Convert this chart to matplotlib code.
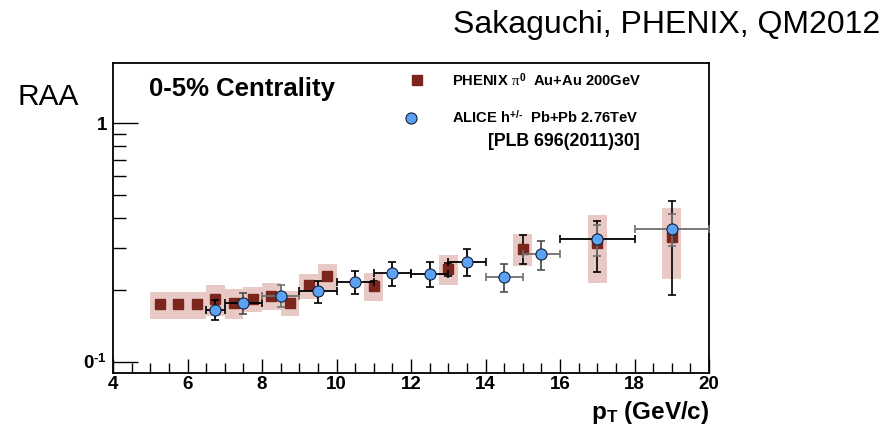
import numpy as np
import matplotlib
matplotlib.use("Agg")
import matplotlib.pyplot as plt
from matplotlib.patches import Rectangle
from matplotlib.ticker import FixedLocator, NullFormatter, MultipleLocator

plt.rcParams['font.family'] = ['Liberation Sans', 'DejaVu Sans']
plt.rcParams['mathtext.fontset'] = 'custom'
plt.rcParams['mathtext.rm'] = 'Liberation Sans:bold'
plt.rcParams['mathtext.it'] = 'Liberation Serif'
plt.rcParams['mathtext.bf'] = 'Liberation Sans:bold'

# PHENIX pi0, Au+Au 200 GeV, 0-5%
phx_pt = [5.25, 5.75, 6.25, 6.75, 7.25, 7.75, 8.25, 8.75, 9.25, 9.75, 11.0, 13.0, 15.0, 17.0, 19.0]
phx_raa = [0.174, 0.174, 0.174, 0.183, 0.176, 0.183, 0.189, 0.177, 0.209, 0.229, 0.208, 0.245, 0.298, 0.314, 0.332]
phx_stat = [0.004, 0.004, 0.005, 0.006, 0.006, 0.007, 0.007, 0.007, 0.008, 0.009, 0.010, 0.015, 0.042, 0.076, 0.142]
phx_sys = [0.023, 0.023, 0.023, 0.027, 0.025, 0.022, 0.024, 0.021, 0.025, 0.029, 0.028, 0.035, 0.047, 0.100, 0.110]

# ALICE charged hadrons, Pb+Pb 2.76 TeV
ali_pt = [6.75, 7.5, 8.5, 9.5, 10.5, 11.5, 12.5, 13.5, 14.5, 15.5, 17.0, 19.0]
ali_pt_err = [0.25, 0.5, 0.5, 0.5, 0.5, 0.5, 0.5, 0.5, 0.5, 0.5, 1.0, 1.0]
ali_raa = [0.165, 0.177, 0.189, 0.198, 0.216, 0.235, 0.233, 0.263, 0.227, 0.282, 0.326, 0.360]
ali_err = [0.016, 0.018, 0.020, 0.021, 0.024, 0.028, 0.028, 0.033, 0.031, 0.040, 0.048, 0.055]

# bar colours per ALICE point (x bar, y bar)
ali_xcol = ['k', 'k', '#707070', 'k', 'k', 'k', 'k', 'k', '#707070', '#707070', 'k', '#707070']
ali_ycol = ['k', '#505050', '#707070', 'k', 'k', 'k', 'k', 'k', '#505050', '#505050', '#707070', '#707070']

fig = plt.figure(figsize=(8.88, 4.25), dpi=100)
ax = fig.add_axes([113 / 888, 1 - 373 / 425, 596 / 888, 310.3 / 425])

ax.set_yscale('log')
ax.set_xlim(4, 20)
ax.set_ylim(0.0897, 1.796)

# systematic boxes
for x, y, s in zip(phx_pt, phx_raa, phx_sys):
    ax.add_patch(Rectangle((x - 0.25, y - s), 0.5, 2 * s, facecolor='#e9c9c5',
                           edgecolor='none', zorder=1))

ax.errorbar(phx_pt, phx_raa, yerr=phx_stat, fmt='none', ecolor='k', elinewidth=1.2,
            capsize=3, capthick=1.2, zorder=2)
ax.plot(phx_pt, phx_raa, 's', color='#7a261c', markersize=7, zorder=3)

for i in range(len(ali_pt)):
    ax.errorbar(ali_pt[i], ali_raa[i], xerr=ali_pt_err[i], fmt='none', ecolor=ali_xcol[i],
                elinewidth=1.3, capsize=3, capthick=1.2, zorder=4)
    ax.errorbar(ali_pt[i], ali_raa[i], yerr=ali_err[i], fmt='none', ecolor=ali_ycol[i],
                elinewidth=1.3, capsize=3, capthick=1.2, zorder=4)
ax.plot(ali_pt, ali_raa, 'o', markerfacecolor='#5ba2f2', markeredgecolor='#10203a',
        markeredgewidth=0.8, markersize=8, zorder=5)

# axis ticks, drawn inside like the ROOT default
ax.xaxis.set_major_locator(MultipleLocator(2))
ax.xaxis.set_minor_locator(MultipleLocator(0.5))
ax.yaxis.set_major_locator(FixedLocator([0.1, 1.0]))
ax.yaxis.set_minor_locator(FixedLocator([0.2, 0.3, 0.4, 0.5, 0.6, 0.7, 0.8, 0.9]))
ax.yaxis.set_minor_formatter(NullFormatter())
ax.set_yticklabels(['0$^{\u2010\\mathbf{1}}$', '1'])
ax.tick_params(axis='both', which='both', direction='in', color='k', width=1.0)
ax.tick_params(axis='x', which='major', length=10, top=False, labelsize=13.5, pad=2)
ax.tick_params(axis='x', which='minor', length=7, top=False)
ax.tick_params(axis='y', which='major', length=18, right=False, labelsize=13.5, pad=4)
ax.tick_params(axis='y', which='minor', length=9, right=False)
for lab in ax.get_xticklabels() + ax.get_yticklabels():
    lab.set_fontweight('bold')
for sp in ax.spines.values():
    sp.set_linewidth(1.3)

ax.text(1.0, -0.085, 'p$_{\\mathbf{T}}$ (GeV/c)', transform=ax.transAxes, ha='right', va='top',
        fontsize=17.5, fontweight='bold')

# panel labels and legend
fig.text(149 / 888, 1 - 96 / 425, '0-5% Centrality', fontsize=18.5, fontweight='bold',
         ha='left', va='baseline')
fig.text(17 / 888, 1 - 105 / 425, 'RAA', fontsize=21.5, ha='left', va='baseline')
fig.text(880 / 888, 1 - 33 / 425, 'Sakaguchi, PHENIX, QM2012', fontsize=23,
         ha='right', va='baseline')

fig.lines.append(plt.Line2D([417 / 888], [1 - 80 / 425], marker='s', color='#7a261c',
                            markersize=7, transform=fig.transFigure))
fig.lines.append(plt.Line2D([411 / 888], [1 - 118 / 425], marker='o', markerfacecolor='#5ba2f2',
                            markeredgecolor='#10203a', markeredgewidth=0.8, markersize=8,
                            transform=fig.transFigure))
fig.text(452 / 888, 1 - 86 / 425, 'PHENIX $\\mathit{\\pi}^{\\mathbf{0}}$  Au+Au 200GeV',
         fontsize=10.6, fontweight='bold', ha='left', va='baseline')
fig.text(452 / 888, 1 - 124 / 425, 'ALICE h$^{\\mathbf{+/\u2010}}$  Pb+Pb 2.76TeV',
         fontsize=10.6, fontweight='bold', ha='left', va='baseline')
fig.text(564 / 888, 1 - 141 / 425, '[PLB 696(2011)30]', fontsize=12.8, fontweight='bold',
         ha='center', va='center')

fig.savefig('out.png', dpi=100)
